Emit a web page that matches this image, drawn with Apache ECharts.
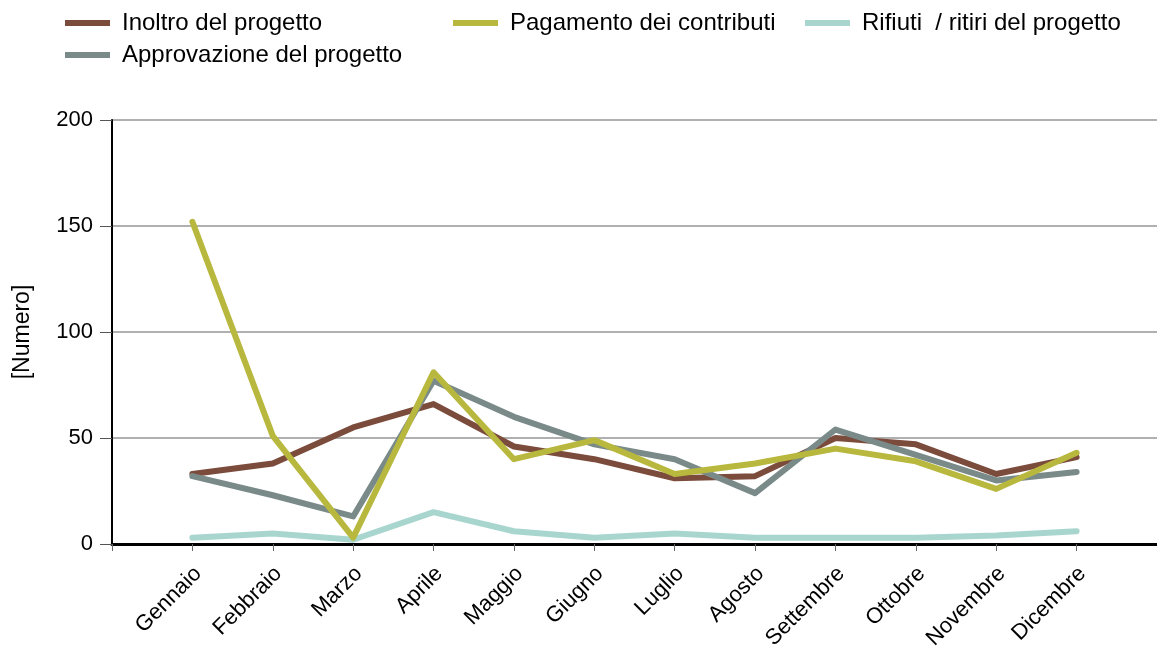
<!DOCTYPE html>
<html>
<head>
<meta charset="utf-8">
<script src="https://cdn.jsdelivr.net/npm/echarts@6/dist/echarts.min.js"></script>
<style>
  html, body { margin: 0; padding: 0; background: #fff; }
  #chart { width: 1157px; height: 652px; }
</style>
</head>
<body>
<div id="chart"></div>
<script>
// Monthly project counts
const months = ['Gennaio', 'Febbraio', 'Marzo', 'Aprile', 'Maggio', 'Giugno',
  'Luglio', 'Agosto', 'Settembre', 'Ottobre', 'Novembre', 'Dicembre'];

const inoltro = [33, 38, 55, 66, 46, 40, 31, 32, 50, 47, 33, 41];
const approvazione = [32, 23, 13, 77, 60, 47, 40, 24, 54, 42, 30, 34];
const pagamento = [152, 51, 3, 81, 40, 49, 33, 38, 45, 39, 26, 43];
const rifiuti = [3, 5, 2, 15, 6, 3, 5, 3, 3, 3, 4, 6];

const yTicks = [0, 50, 100, 150, 200];

const names = ['Inoltro del progetto', 'Approvazione del progetto',
  'Pagamento dei contributi', 'Rifiuti  / ritiri del progetto'];
const colors = ['#7b4b3b', '#798a89', '#b8b83e', '#a8d6cf'];

const font = '"Liberation Sans", Arial, sans-serif';

// one empty slot before and after the months
const pad = arr => [null, ...arr, null];
const categories = ['', ...months, ''];

function lineSeries(name, values, color, z) {
  return {
    name,
    type: 'line',
    data: pad(values),
    symbol: 'none',
    z,
    lineStyle: { color, width: 6, cap: 'round', join: 'round' },
    itemStyle: { color },
    emphasis: { disabled: true }
  };
}

function legendItem(name, left, top) {
  return {
    data: [name],
    left, top,
    padding: 0,
    icon: 'rect',
    itemWidth: 45,
    itemHeight: 6,
    itemGap: 0,
    selectedMode: false,
    textStyle: { fontFamily: font, fontSize: 24, color: '#000', padding: [0, 0, 0, 7] }
  };
}

const chart = echarts.init(document.getElementById('chart'), null, { renderer: 'canvas' });

chart.setOption({
  animation: false,
  backgroundColor: '#fff',
  legend: [
    legendItem(names[0], 65, 11),
    legendItem(names[2], 453, 11),
    legendItem(names[3], 805, 11),
    legendItem(names[1], 65, 43)
  ],
  grid: {
    left: 112, right: 0, top: 120, bottom: 108,
    containLabel: false,
    outerBoundsMode: 'none'
  },
  xAxis: {
    type: 'category',
    data: categories,
    boundaryGap: false,
    axisLine: { lineStyle: { color: '#000', width: 3 } },
    axisTick: { show: true, length: 7, interval: 0, lineStyle: { color: '#666', width: 1 } },
    axisLabel: {
      interval: 0,
      rotate: 45,
      margin: 32,
      padding: [0, -8, 0, 0],
      fontFamily: font,
      fontSize: 22,
      color: '#000'
    },
    splitLine: { show: false }
  },
  yAxis: {
    type: 'value',
    min: yTicks[0],
    max: yTicks[yTicks.length - 1],
    interval: 50,
    name: '[Numero]',
    nameLocation: 'middle',
    nameRotate: 90,
    nameGap: 78,
    nameTextStyle: { fontFamily: font, fontSize: 23, color: '#000' },
    axisLine: { show: true, lineStyle: { color: '#000', width: 2 } },
    axisTick: { show: true, length: 12, lineStyle: { color: '#555', width: 1 } },
    axisLabel: { fontFamily: font, fontSize: 22, color: '#000', margin: 19 },
    splitLine: { lineStyle: { color: '#b0b0b0', width: 2 } }
  },
  series: [
    lineSeries(names[3], rifiuti, colors[3], 2),
    lineSeries(names[0], inoltro, colors[0], 3),
    lineSeries(names[1], approvazione, colors[1], 4),
    lineSeries(names[2], pagamento, colors[2], 5)
  ]
});
</script>
</body>
</html>
